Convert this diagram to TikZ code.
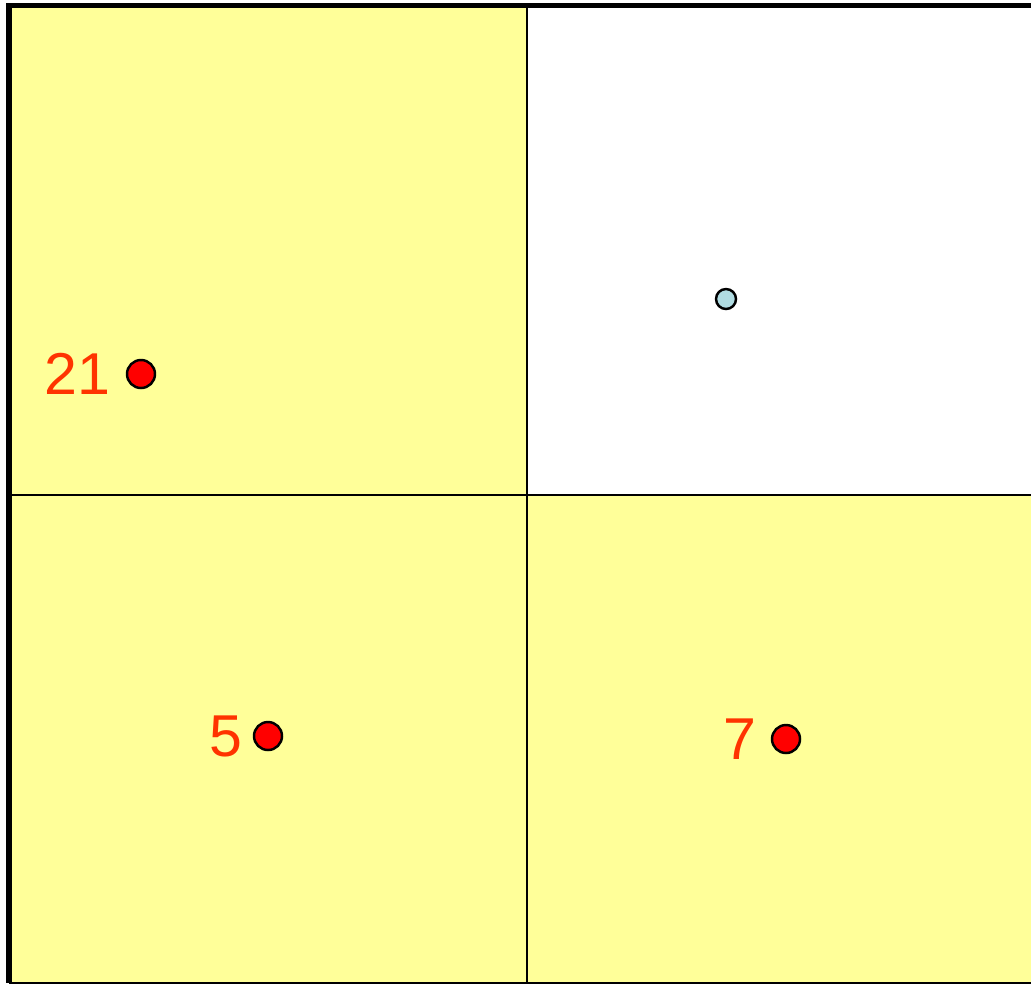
\documentclass[tikz,border=0pt]{standalone}
\usepackage{fontspec}
\setmainfont{Liberation Sans}
\usetikzlibrary{positioning}
\definecolor{cellyellow}{RGB}{255,255,153}
\definecolor{dotblue}{RGB}{176,220,226}
\definecolor{labelred}{RGB}{255,51,0}

\begin{document}
\begin{tikzpicture}[
  x=0.01cm, y=-0.01cm,
  grid/.style   = {draw=black, line width=0.6pt},
  frame/.style  = {draw=black, line width=1.6pt},
  dot/.style    = {circle, draw=black, line width=0.7pt, inner sep=0pt,
                   minimum size=0.28cm},
  tag/.style    = {text=labelred, inner sep=0pt,
                   font=\fontsize{16.8}{20}\selectfont},
  node distance = 0.15cm
]
\useasboundingbox (0,0) rectangle (1031,984);

% Cells
\fill[cellyellow] (9,5.5) rectangle (527,495);
\fill[white]      (527,5.5) rectangle (1031,495);
\fill[cellyellow] (9,495) rectangle (527,983);
\fill[cellyellow] (527,495) rectangle (1031,983);

% Grid lines
\draw[grid] (527,5.5) -- (527,983);
\draw[grid] (9,495) -- (1031,495);
\draw[grid] (9,983) -- (1031,983);

% Outer frame
\draw[frame] (1031,5.5) -- (9,5.5) -- (9,983);

% Points
\node[dot, fill=red] (p21) at (141,374) {};
\node[dot, fill=red] (p5)  at (268,736) {};
\node[dot, fill=red] (p7)  at (786,739) {};
\node[dot, fill=dotblue, minimum size=0.2cm] (pc) at (726,299) {};

% Labels
\node[tag, left=0.15cm of p21] (l21) {21};
\node[tag, left=0.1cm of p5]   (l5)  {5};
\node[tag, left=0.14cm of p7]  (l7)  {7};
\end{tikzpicture}
\end{document}
